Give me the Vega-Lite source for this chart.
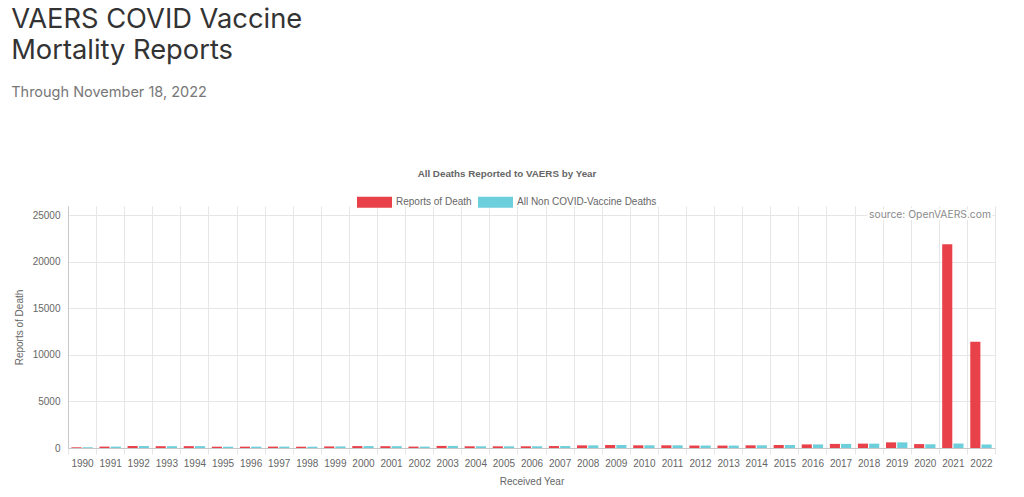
{
  "$schema": "https://vega.github.io/schema/vega-lite/v6.json",
  "width": 927,
  "height": 242,
  "padding": {"left": 11, "top": 6, "right": 20, "bottom": 5},
  "background": "white",
  "title": {
    "text": ["VAERS COVID Vaccine", "Mortality Reports"],
    "subtitle": "Through November 18, 2022",
    "anchor": "start",
    "frame": "bounds",
    "font": "Inter",
    "fontSize": 27.3,
    "fontWeight": "normal",
    "color": "#333333",
    "lineHeight": 31,
    "subtitleFont": "Inter",
    "subtitleFontSize": 14.5,
    "subtitleColor": "#777777",
    "subtitlePadding": 21,
    "offset": 70,
    "dx": -3
  },
  "config": {
    "view": {"stroke": null},
    "axis": {
      "labelFont": "Liberation Sans",
      "titleFont": "Liberation Sans",
      "labelColor": "#666666",
      "titleColor": "#666666",
      "labelFontSize": 10,
      "titleFontSize": 10,
      "titleFontWeight": "normal",
      "gridColor": "#e6e6e6",
      "domainColor": "#c8c8c8"
    }
  },
  "datasets": {
    "deaths": [
      {"year": "1990", "series": "Reports of Death", "deaths": 75},
      {"year": "1990", "series": "All Non COVID-Vaccine Deaths", "deaths": 70},
      {"year": "1991", "series": "Reports of Death", "deaths": 150},
      {"year": "1991", "series": "All Non COVID-Vaccine Deaths", "deaths": 150},
      {"year": "1992", "series": "Reports of Death", "deaths": 210},
      {"year": "1992", "series": "All Non COVID-Vaccine Deaths", "deaths": 210},
      {"year": "1993", "series": "Reports of Death", "deaths": 195},
      {"year": "1993", "series": "All Non COVID-Vaccine Deaths", "deaths": 195},
      {"year": "1994", "series": "Reports of Death", "deaths": 200},
      {"year": "1994", "series": "All Non COVID-Vaccine Deaths", "deaths": 200},
      {"year": "1995", "series": "Reports of Death", "deaths": 140},
      {"year": "1995", "series": "All Non COVID-Vaccine Deaths", "deaths": 140},
      {"year": "1996", "series": "Reports of Death", "deaths": 145},
      {"year": "1996", "series": "All Non COVID-Vaccine Deaths", "deaths": 145},
      {"year": "1997", "series": "Reports of Death", "deaths": 150},
      {"year": "1997", "series": "All Non COVID-Vaccine Deaths", "deaths": 150},
      {"year": "1998", "series": "Reports of Death", "deaths": 140},
      {"year": "1998", "series": "All Non COVID-Vaccine Deaths", "deaths": 140},
      {"year": "1999", "series": "Reports of Death", "deaths": 170},
      {"year": "1999", "series": "All Non COVID-Vaccine Deaths", "deaths": 170},
      {"year": "2000", "series": "Reports of Death", "deaths": 205},
      {"year": "2000", "series": "All Non COVID-Vaccine Deaths", "deaths": 205},
      {"year": "2001", "series": "Reports of Death", "deaths": 195},
      {"year": "2001", "series": "All Non COVID-Vaccine Deaths", "deaths": 195},
      {"year": "2002", "series": "Reports of Death", "deaths": 150},
      {"year": "2002", "series": "All Non COVID-Vaccine Deaths", "deaths": 150},
      {"year": "2003", "series": "Reports of Death", "deaths": 225},
      {"year": "2003", "series": "All Non COVID-Vaccine Deaths", "deaths": 225},
      {"year": "2004", "series": "Reports of Death", "deaths": 185},
      {"year": "2004", "series": "All Non COVID-Vaccine Deaths", "deaths": 185},
      {"year": "2005", "series": "Reports of Death", "deaths": 180},
      {"year": "2005", "series": "All Non COVID-Vaccine Deaths", "deaths": 180},
      {"year": "2006", "series": "Reports of Death", "deaths": 185},
      {"year": "2006", "series": "All Non COVID-Vaccine Deaths", "deaths": 185},
      {"year": "2007", "series": "Reports of Death", "deaths": 210},
      {"year": "2007", "series": "All Non COVID-Vaccine Deaths", "deaths": 210},
      {"year": "2008", "series": "Reports of Death", "deaths": 285},
      {"year": "2008", "series": "All Non COVID-Vaccine Deaths", "deaths": 285},
      {"year": "2009", "series": "Reports of Death", "deaths": 320},
      {"year": "2009", "series": "All Non COVID-Vaccine Deaths", "deaths": 320},
      {"year": "2010", "series": "Reports of Death", "deaths": 290},
      {"year": "2010", "series": "All Non COVID-Vaccine Deaths", "deaths": 290},
      {"year": "2011", "series": "Reports of Death", "deaths": 290},
      {"year": "2011", "series": "All Non COVID-Vaccine Deaths", "deaths": 290},
      {"year": "2012", "series": "Reports of Death", "deaths": 265},
      {"year": "2012", "series": "All Non COVID-Vaccine Deaths", "deaths": 265},
      {"year": "2013", "series": "Reports of Death", "deaths": 260},
      {"year": "2013", "series": "All Non COVID-Vaccine Deaths", "deaths": 260},
      {"year": "2014", "series": "Reports of Death", "deaths": 290},
      {"year": "2014", "series": "All Non COVID-Vaccine Deaths", "deaths": 290},
      {"year": "2015", "series": "Reports of Death", "deaths": 320},
      {"year": "2015", "series": "All Non COVID-Vaccine Deaths", "deaths": 320},
      {"year": "2016", "series": "Reports of Death", "deaths": 385},
      {"year": "2016", "series": "All Non COVID-Vaccine Deaths", "deaths": 385},
      {"year": "2017", "series": "Reports of Death", "deaths": 440},
      {"year": "2017", "series": "All Non COVID-Vaccine Deaths", "deaths": 440},
      {"year": "2018", "series": "Reports of Death", "deaths": 470},
      {"year": "2018", "series": "All Non COVID-Vaccine Deaths", "deaths": 470},
      {"year": "2019", "series": "Reports of Death", "deaths": 605},
      {"year": "2019", "series": "All Non COVID-Vaccine Deaths", "deaths": 605},
      {"year": "2020", "series": "Reports of Death", "deaths": 420},
      {"year": "2020", "series": "All Non COVID-Vaccine Deaths", "deaths": 400},
      {"year": "2021", "series": "Reports of Death", "deaths": 21900},
      {"year": "2021", "series": "All Non COVID-Vaccine Deaths", "deaths": 480},
      {"year": "2022", "series": "Reports of Death", "deaths": 11420},
      {"year": "2022", "series": "All Non COVID-Vaccine Deaths", "deaths": 380}
    ],
    "source": [
      {"label": "source: OpenVAERS.com", "year": "2022", "deaths": 25000}
    ]
  },
  "layer": [
    {
      "data": {"name": "deaths"},
      "mark": {"type": "bar"},
      "encoding": {
        "x": {
          "field": "year",
          "type": "ordinal",
          "scale": {"paddingInner": 0, "paddingOuter": 0},
          "axis": {
            "title": "Received Year",
            "labelAngle": 0,
            "labelPadding": 4,
            "tickBand": "extent",
            "grid": true,
            "ticks": true,
            "tickSize": 6,
            "tickColor": "#e6e6e6",
            "titlePadding": 8
          }
        },
        "xOffset": {
          "field": "series",
          "scale": {
            "domain": ["Reports of Death", "All Non COVID-Vaccine Deaths"],
            "paddingInner": 0.1,
            "paddingOuter": 0.3
          }
        },
        "y": {
          "field": "deaths",
          "type": "quantitative",
          "scale": {"domain": [0, 25000]},
          "axis": {
            "title": "Reports of Death",
            "values": [0, 5000, 10000, 15000, 20000, 25000],
            "format": "d",
            "ticks": false,
            "labelPadding": 8,
            "titlePadding": 8,
            "grid": true
          }
        },
        "color": {
          "field": "series",
          "type": "nominal",
          "scale": {
            "domain": ["Reports of Death", "All Non COVID-Vaccine Deaths"],
            "range": ["#e8414a", "#6dcfdb"]
          },
          "legend": {
            "orient": "none",
            "legendX": 289,
            "legendY": -37,
            "direction": "horizontal",
            "title": "All Deaths Reported to VAERS by Year",
            "titleOrient": "top",
            "titleAnchor": "middle",
            "titleFont": "Liberation Sans",
            "titleFontSize": 9.8,
            "titleFontWeight": "bold",
            "titleColor": "#666666",
            "titlePadding": 6,
            "labelFont": "Liberation Sans",
            "labelFontSize": 10,
            "labelColor": "#666666",
            "labelOffset": 4,
            "columnPadding": 6,
            "symbolType": "M-1,-0.314H1V0.314H-1Z",
            "symbolSize": 1225,
            "symbolStrokeWidth": 0
          }
        }
      }
    },
    {
      "data": {"name": "source"},
      "mark": {"type": "text", "align": "right", "baseline": "middle", "dx": 10, "font": "Inter", "fontSize": 10.3, "fill": "white", "stroke": "white", "strokeWidth": 4},
      "encoding": {"x": {"field": "year", "type": "ordinal"}, "y": {"field": "deaths", "type": "quantitative"}, "text": {"field": "label"}}
    },
    {
      "data": {"name": "source"},
      "mark": {"type": "text", "align": "right", "baseline": "middle", "dx": 10, "font": "Inter", "fontSize": 10.3, "fill": "#8a8a8a", "strokeWidth": 0},
      "encoding": {"x": {"field": "year", "type": "ordinal"}, "y": {"field": "deaths", "type": "quantitative"}, "text": {"field": "label"}}
    }
  ]
}
